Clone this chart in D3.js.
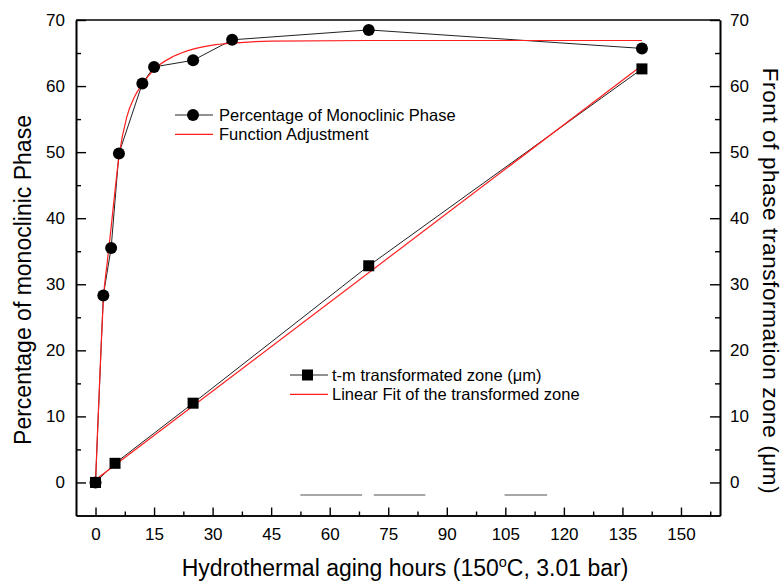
<!DOCTYPE html>
<html>
<head>
<meta charset="utf-8">
<script src="https://cdn.jsdelivr.net/npm/d3@7"></script>
<style>
  html, body { margin: 0; padding: 0; background: #fff; }
  svg { display: block; font-family: "Liberation Sans", Arial, sans-serif; }
</style>
</head>
<body>
<svg id="chart" width="783" height="581"></svg>
<script>
// Percentage of monoclinic phase vs. hydrothermal aging time
const agingHours = [0, 2, 4, 6, 12, 15, 25, 35, 70, 140];
const monoclinicPct = [0, 28.3, 35.5, 49.8, 60.4, 62.9, 63.9, 67.0, 68.5, 65.7];

// Fitted saturation curve (function adjustment), sampled along its path
const adjustHours = [0, 0.5, 1, 1.5, 2, 3, 4, 5, 6, 8, 10, 12, 15, 20, 25, 30, 35, 45, 70, 140];
const adjustPct = [0, 7.5, 14.5, 21.5, 27.5, 33.3, 38.6, 44.2, 49.3, 55.3, 58.4, 60.3, 62.5, 64.5, 65.6, 66.2, 66.5, 66.8, 66.9, 66.9];

// Depth of the t-m transformed zone (µm)
const zoneHours = [0, 5, 25, 70, 140];
const zoneDepth = [0, 2.9, 12.0, 32.8, 62.6];

// Linear fit of the transformed zone (end points)
const fitHours = [0, 140];
const fitDepth = [0.4, 63.1];

// Stray grey strokes below the baseline
const strayStart = [52.5, 71.3, 104.8];
const strayEnd = [68.3, 84.5, 115.7];
const strayLevel = -1.9;

// Axis ticks
const xMajorTicks = [0, 15, 30, 45, 60, 75, 90, 105, 120, 135, 150];
const xMinorTicks = [7.5, 22.5, 37.5, 52.5, 67.5, 82.5, 97.5, 112.5, 127.5, 142.5, 157.5];
const yMajorTicks = [0, 10, 20, 30, 40, 50, 60, 70];
const yMinorTicks = [5, 15, 25, 35, 45, 55, 65];

const legendTop = ["Percentage of Monoclinic Phase", "Function Adjustment"];
const legendBottom = ["t-m transformated zone (\u03bcm)", "Linear Fit of the transformed zone"];

const svg = d3.select("#chart");
const margin = { left: 76, top: 20, right: 63, bottom: 65.5 };
const W = 783, H = 581;
const innerW = W - margin.left - margin.right;
const innerH = H - margin.top - margin.bottom;

const x = d3.scaleLinear().domain([-5, 160]).range([0, innerW]);
const yL = d3.scaleLinear().domain([-5, 70]).range([innerH, 0]);
const yR = d3.scaleLinear().domain([-5, 70]).range([innerH, 0]);

const g = svg.append("g").attr("transform", `translate(${margin.left},${margin.top})`);

const RED = "#ff1e1e";
const DARK = "#222";
const tickFont = 17;

// stray grey strokes
g.append("g").selectAll("line").data(strayStart).join("line")
  .attr("x1", d => x(d)).attr("x2", (d, i) => x(strayEnd[i]))
  .attr("y1", yL(strayLevel)).attr("y2", yL(strayLevel))
  .attr("stroke", "#8a8a8a").attr("stroke-width", 1.4);

// Axes
function styleAxis(sel) {
  sel.selectAll(".domain").attr("stroke", "#000").attr("stroke-width", 1.6);
  sel.selectAll(".tick line").attr("stroke", "#000").attr("stroke-width", 1.4);
  sel.selectAll(".tick text").attr("font-size", tickFont).attr("fill", "#000")
    .attr("font-family", "'Liberation Sans', Arial, sans-serif");
}

// bottom
g.append("g").attr("transform", `translate(0,${innerH})`)
  .call(d3.axisBottom(x).tickValues(xMinorTicks).tickFormat("").tickSize(-4).tickSizeOuter(0))
  .call(styleAxis);
g.append("g").attr("transform", `translate(0,${innerH})`)
  .call(d3.axisBottom(x).tickValues(xMajorTicks).tickFormat(d3.format("d")).tickSize(-8).tickSizeOuter(0).tickPadding(12))
  .call(styleAxis);

// left
g.append("g")
  .call(d3.axisLeft(yL).tickValues(yMinorTicks).tickFormat("").tickSize(-5).tickSizeOuter(0))
  .call(styleAxis);
g.append("g")
  .call(d3.axisLeft(yL).tickValues(yMajorTicks).tickFormat(d3.format("d")).tickSize(-10).tickSizeOuter(0).tickPadding(11))
  .call(styleAxis);

// right
g.append("g").attr("transform", `translate(${innerW},0)`)
  .call(d3.axisRight(yR).tickValues(yMinorTicks).tickFormat("").tickSize(-5).tickSizeOuter(0))
  .call(styleAxis);
g.append("g").attr("transform", `translate(${innerW},0)`)
  .call(d3.axisRight(yR).tickValues(yMajorTicks).tickFormat(d3.format("d")).tickSize(-10).tickSizeOuter(0).tickPadding(10))
  .call(styleAxis);

// top frame line
g.append("line").attr("x1", 0).attr("x2", innerW).attr("y1", 0).attr("y2", 0)
  .attr("stroke", "#000").attr("stroke-width", 1.6);

// Series lines
const lineL = d3.line().x(d => x(d[0])).y(d => yL(d[1]));
const lineR = d3.line().x(d => x(d[0])).y(d => yR(d[1]));

g.append("path").datum(agingHours.map((h, i) => [h, monoclinicPct[i]]))
  .attr("d", lineL).attr("fill", "none").attr("stroke", DARK).attr("stroke-width", 1);

g.append("path").datum(zoneHours.map((h, i) => [h, zoneDepth[i]]))
  .attr("d", lineR).attr("fill", "none").attr("stroke", DARK).attr("stroke-width", 1);

g.append("path").datum(adjustHours.map((h, i) => [h, adjustPct[i]]))
  .attr("d", lineL.curve(d3.curveMonotoneX)).attr("fill", "none").attr("stroke", RED).attr("stroke-width", 1.2);

g.append("path").datum(fitHours.map((h, i) => [h, fitDepth[i]]))
  .attr("d", d3.line().x(d => x(d[0])).y(d => yR(d[1]))).attr("fill", "none").attr("stroke", RED).attr("stroke-width", 1.2);

// Markers
g.append("g").selectAll("rect").data(zoneHours).join("rect")
  .attr("x", d => x(d) - 5.5).attr("y", (d, i) => yR(zoneDepth[i]) - 5.5)
  .attr("width", 11).attr("height", 11).attr("fill", "#000");

g.append("g").selectAll("circle").data(agingHours).join("circle")
  .attr("cx", d => x(d)).attr("cy", (d, i) => yL(monoclinicPct[i]))
  .attr("r", 6).attr("fill", "#000");

// Legends
const legFont = 16.5;
function legend(x0, y0, labels, markerType) {
  const lg = svg.append("g").attr("transform", `translate(${x0},${y0})`);
  // row 1: black line with marker
  lg.append("line").attr("x1", 0).attr("x2", 38).attr("y1", 0).attr("y2", 0)
    .attr("stroke", DARK).attr("stroke-width", 1);
  if (markerType === "circle") {
    lg.append("circle").attr("cx", 18).attr("cy", 0).attr("r", 6).attr("fill", "#000");
  } else {
    lg.append("rect").attr("x", 12).attr("y", -5.5).attr("width", 11).attr("height", 11).attr("fill", "#000");
  }
  lg.append("text").attr("x", markerType === "circle" ? 44 : 42).attr("y", 0).attr("dy", "0.35em")
    .attr("font-size", legFont).text(labels[0]);
  // row 2: red line
  lg.append("line").attr("x1", 0).attr("x2", 38).attr("y1", 19.3).attr("y2", 19.3)
    .attr("stroke", RED).attr("stroke-width", 1.2);
  lg.append("text").attr("x", markerType === "circle" ? 44 : 42).attr("y", 19.3).attr("dy", "0.35em")
    .attr("font-size", legFont).text(labels[1]);
}
legend(175, 115, legendTop, "circle");
legend(290, 375, legendBottom, "square");

// Axis titles
const xt = svg.append("text").attr("x", 405).attr("y", 576)
  .attr("text-anchor", "middle").attr("font-size", 23);
xt.append("tspan").text("Hydrothermal aging hours (150");
xt.append("tspan").attr("font-size", 14.5).attr("dy", -9).text("o");
xt.append("tspan").attr("dy", 9).text("C, 3.01 bar)");

svg.append("text").attr("transform", "translate(31,280) rotate(-90)")
  .attr("text-anchor", "middle").attr("font-size", 23)
  .text("Percentage of monoclinic Phase");

svg.append("text").attr("transform", "translate(763,281) rotate(90)")
  .attr("text-anchor", "middle").attr("font-size", 22.5).attr("letter-spacing", 0.6)
  .text("Front of phase transformation zone (\u03bcm)");
</script>
</body>
</html>
